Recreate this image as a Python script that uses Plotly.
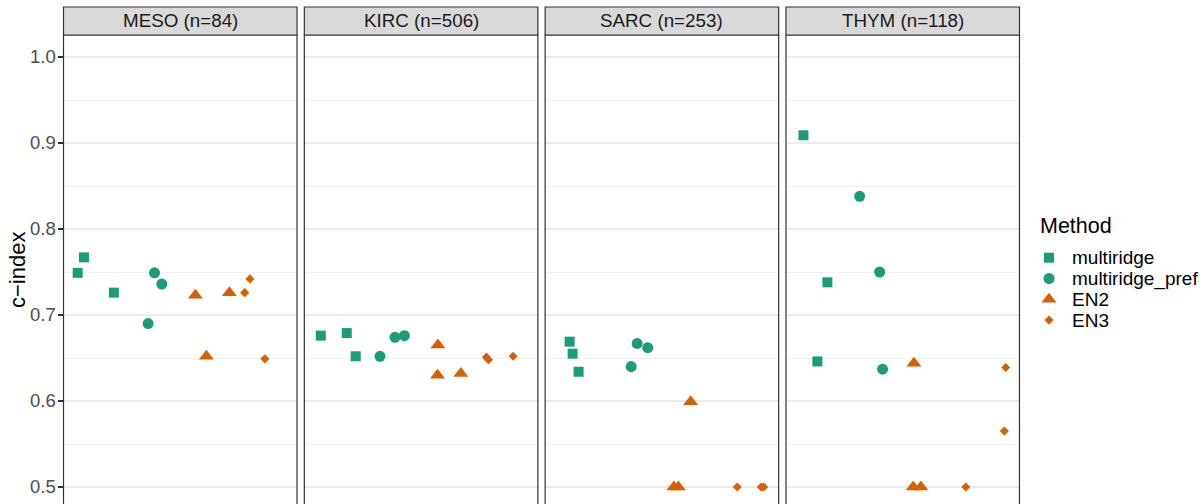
import plotly.graph_objects as go

# ---------------- data ----------------
cancers = ["MESO (n=84)", "KIRC (n=506)", "SARC (n=253)", "THYM (n=118)"]
methods = ["multiridge", "multiridge_pref", "EN2", "EN3"]
y_ticks = [0.5, 0.6, 0.7, 0.8, 0.9, 1.0]
y_minor = [0.55, 0.65, 0.75, 0.85, 0.95]

# c-index values, 3 per cancer (MESO, KIRC, SARC, THYM)
multiridge_c = [0.749, 0.767, 0.726, 0.676, 0.679, 0.652, 0.669, 0.655, 0.634, 0.909, 0.738, 0.646]
multiridge_pref_c = [0.749, 0.736, 0.690, 0.652, 0.674, 0.676, 0.667, 0.662, 0.640, 0.838, 0.750, 0.637]
en2_c = [0.723, 0.652, 0.726, 0.665, 0.630, 0.632, 0.599, 0.500, 0.500, 0.644, 0.500, 0.500]
en3_c = [0.726, 0.742, 0.649, 0.651, 0.648, 0.652, 0.500, 0.500, 0.500, 0.639, 0.565, 0.500]

# jittered x positions (method index 1..4 plus jitter)
multiridge_x = [0.655, 0.768, 1.306, 0.696, 1.163, 1.324, 0.840, 0.894, 1.001, 0.714, 1.145, 0.965]
multiridge_pref_x = [2.037, 2.168, 1.922, 1.761, 2.030, 2.199, 2.055, 2.245, 1.947, 1.725, 2.084, 2.138]
en2_x = [2.773, 2.970, 3.383, 2.802, 2.796, 3.215, 3.017, 2.716, 2.796, 2.701, 2.689, 2.827]
en3_x = [3.658, 3.753, 4.022, 3.676, 3.712, 4.155, 3.855, 4.286, 4.331, 4.352, 4.327, 3.635]

values = {"multiridge": (multiridge_x, multiridge_c),
          "multiridge_pref": (multiridge_pref_x, multiridge_pref_c),
          "EN2": (en2_x, en2_c),
          "EN3": (en3_x, en3_c)}

# ---------------- style ----------------
GREEN, ORANGE = "#1B9E77", "#D95F02"
style = {"multiridge": dict(symbol="square", color=GREEN, size=10),
         "multiridge_pref": dict(symbol="circle", color=GREEN, size=11),
         "EN2": dict(symbol="triangle-up", color=ORANGE, size=13),
         "EN3": dict(symbol="diamond", color=ORANGE, size=7)}
FONT = "Liberation Sans, Arial, sans-serif"
W, H = 1200, 504


def px(p):
    return p / W


def py(p):
    return 1 - p / H


panel_left = 63.5
panel_right = 1019.5
gap = 7.3
pw = (panel_right - panel_left - 3 * gap) / 4
strip_top, panel_top = 7, 35
y_range = [0.5 - (504 - 487) / 860, 1.0 + (57 - 35) / 860]

fig = go.Figure()
shapes, annotations = [], []
layout = {}

for i, cancer in enumerate(cancers):
    sfx = "" if i == 0 else str(i + 1)
    l = panel_left + i * (pw + gap)
    r = l + pw
    for m in methods:
        xs, cs = values[m]
        fig.add_trace(go.Scatter(
            x=xs[3 * i:3 * i + 3], y=cs[3 * i:3 * i + 3], mode="markers",
            marker=dict(symbol=style[m]["symbol"], color=style[m]["color"],
                        size=style[m]["size"], opacity=1, line=dict(width=0)),
            name=m, showlegend=False, xaxis="x" + sfx, yaxis="y" + sfx,
            cliponaxis=False))
    layout["xaxis" + sfx] = dict(domain=[px(l), px(r)], range=[0.4, 4.6],
                                 showgrid=False, zeroline=False,
                                 showticklabels=False, ticks="", showline=False,
                                 fixedrange=True)
    ya = dict(domain=[0, py(panel_top)], range=y_range, anchor="x" + sfx,
              tickvals=y_ticks, showgrid=True, gridcolor="#EBEBEB", gridwidth=1.2,
              minor=dict(tickvals=y_minor, showgrid=True, gridcolor="#EBEBEB",
                         gridwidth=0.7, ticks=""),
              zeroline=False, showline=False, fixedrange=True)
    if i == 0:
        ya.update(ticks="outside", ticklen=5, tickwidth=1.1, tickcolor="#333333",
                  tickformat=".1f", showticklabels=True, ticklabelstandoff=-2,
                  tickfont=dict(family=FONT, size=18.5, color="#4D4D4D"))
    else:
        ya.update(ticks="", showticklabels=False, matches="y")
    layout["yaxis" + sfx] = ya

    # panel border
    shapes.append(dict(type="rect", xref="paper", yref="paper",
                       x0=px(l), x1=px(r), y0=-0.05, y1=py(panel_top),
                       line=dict(color="#333333", width=1.2), layer="above"))
    # strip
    shapes.append(dict(type="rect", xref="paper", yref="paper",
                       x0=px(l), x1=px(r), y0=py(panel_top), y1=py(strip_top),
                       fillcolor="#D9D9D9", line=dict(color="#333333", width=1.2)))
    annotations.append(dict(text=cancer, xref="paper", yref="paper",
                            x=px((l + r) / 2), y=py((strip_top + panel_top) / 2),
                            xanchor="center", yanchor="middle", showarrow=False,
                            font=dict(family=FONT, size=18.8, color="#1A1A1A")))

# y axis title
annotations.append(dict(text="c\u2212index", xref="paper", yref="paper",
                        x=px(17), y=py(270), textangle=-90, showarrow=False,
                        xanchor="center", yanchor="middle",
                        font=dict(family=FONT, size=22, color="black")))

# manual legend (one marker trace per method on a hidden axis)
row0, row_h = 257.7, 20.8
for k, m in enumerate(methods):
    fig.add_trace(go.Scatter(
        x=[0], y=[k], mode="markers",
        marker=dict(symbol=style[m]["symbol"], color=style[m]["color"],
                    size=style[m]["size"], opacity=1, line=dict(width=0)),
        showlegend=False, xaxis="x5", yaxis="y5", cliponaxis=False,
        hoverinfo="skip"))
    annotations.append(dict(text=m, xref="paper", yref="y5", x=px(1070), y=k,
                            xanchor="left", yanchor="middle", showarrow=False,
                            font=dict(family=FONT, size=19, color="black")))
layout["xaxis5"] = dict(domain=[px(1039), px(1059)], range=[-1, 1], visible=False,
                        fixedrange=True)
layout["yaxis5"] = dict(domain=[py(row0 - row_h / 2 + 4 * row_h), py(row0 - row_h / 2)],
                        range=[3.5, -0.5], visible=False, anchor="x5", fixedrange=True)
annotations.append(dict(text="Method", xref="paper", yref="paper",
                        x=px(1038), y=py(226), xanchor="left", yanchor="middle",
                        showarrow=False, font=dict(family=FONT, size=21.5, color="black")))

fig.update_layout(width=W, height=H, margin=dict(l=0, r=0, t=0, b=0),
                  paper_bgcolor="white", plot_bgcolor="white",
                  shapes=shapes, annotations=annotations, showlegend=False,
                  hovermode=False, font=dict(family=FONT), **layout)

fig.write_html("out.html", config={"displayModeBar": False, "staticPlot": True},
               post_script="document.body.style.margin='0px';"
                           "document.body.style.overflow='hidden';")
